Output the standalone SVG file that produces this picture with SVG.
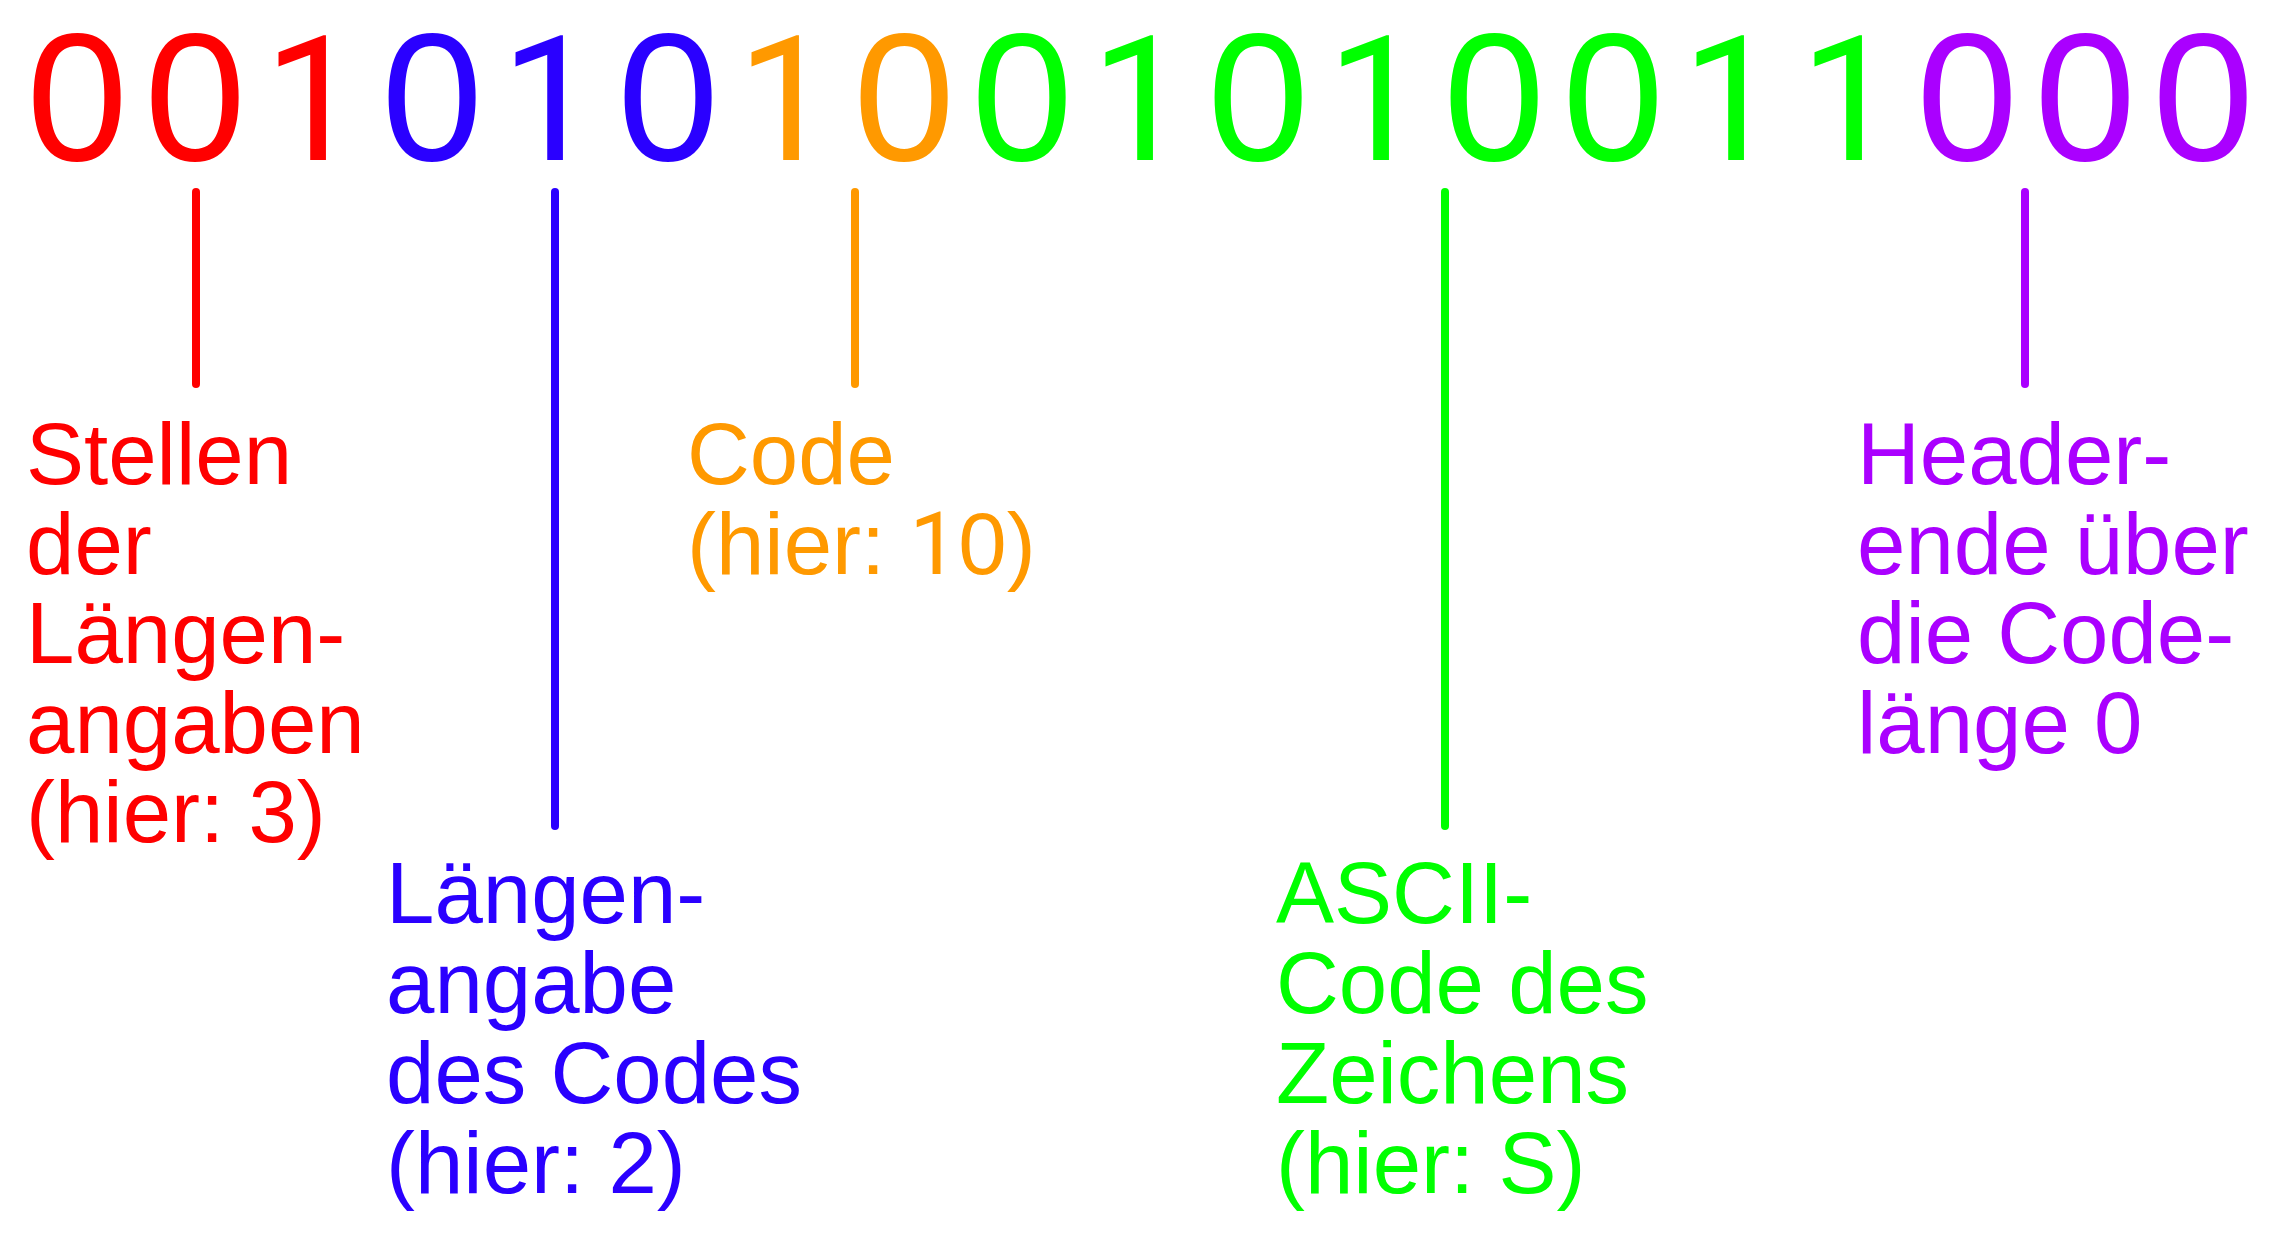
<svg xmlns="http://www.w3.org/2000/svg" width="2279" height="1241" viewBox="0 0 2279 1241">
<style>
text{font-family:"Liberation Sans",Arial,sans-serif}
.d{font-size:182px;text-anchor:middle}
.one{font-family:Roboto,"Liberation Sans",sans-serif}
.d .one{font-size:174px}
.t{font-size:87px}
.r{fill:#ff0000}.b{fill:#2a00ff}.o{fill:#ff9900}.g{fill:#00ff00}.p{fill:#aa00ff}
line{stroke-width:8;stroke-linecap:round}
</style>
<rect width="2279" height="1241" fill="#ffffff"/>
<g id="bits">
<text class="d r" y="160"><tspan x="77">0</tspan><tspan x="195">0</tspan><tspan class="one" x="313">1</tspan></text>
<text class="d b" y="160"><tspan x="432">0</tspan><tspan class="one" x="550">1</tspan><tspan x="668">0</tspan></text>
<text class="d o" y="160"><tspan class="one" x="786">1</tspan><tspan x="904">0</tspan></text>
<text class="d g" y="160"><tspan x="1022">0</tspan><tspan class="one" x="1140">1</tspan><tspan x="1258">0</tspan><tspan class="one" x="1376">1</tspan><tspan x="1494">0</tspan><tspan x="1613">0</tspan><tspan class="one" x="1731">1</tspan><tspan class="one" x="1849">1</tspan></text>
<text class="d p" y="160"><tspan x="1967">0</tspan><tspan x="2085">0</tspan><tspan x="2203">0</tspan></text>
</g>
<g id="connectors">
<line x1="196" y1="192" x2="196" y2="384" stroke="#ff0000"/>
<line x1="555" y1="192" x2="555" y2="826" stroke="#2a00ff"/>
<line x1="855" y1="192" x2="855" y2="384" stroke="#ff9900"/>
<line x1="1445" y1="192" x2="1445" y2="826" stroke="#00ff00"/>
<line x1="2025" y1="192" x2="2025" y2="384" stroke="#aa00ff"/>
</g>
<g id="label-stellen">
<text class="t r"><tspan x="26" y="484">Stellen</tspan><tspan x="26" y="574">der</tspan><tspan x="26" y="663">Längen-</tspan><tspan x="26" y="753">angaben</tspan><tspan x="26" y="842">(hier: 3)</tspan></text>
</g>
<g id="label-laengenangabe">
<text class="t b"><tspan x="386" y="923">Längen-</tspan><tspan x="386" y="1013">angabe</tspan><tspan x="386" y="1103">des Codes</tspan><tspan x="386" y="1193">(hier: 2)</tspan></text>
</g>
<g id="label-code">
<text class="t o"><tspan x="687" y="484">Code</tspan><tspan x="687" y="574">(hier: <tspan class="one">1</tspan>0)</tspan></text>
</g>
<g id="label-ascii">
<text class="t g"><tspan x="1276" y="923">ASCII-</tspan><tspan x="1276" y="1013">Code des</tspan><tspan x="1276" y="1103">Zeichens</tspan><tspan x="1276" y="1193">(hier: S)</tspan></text>
</g>
<g id="label-header">
<text class="t p"><tspan x="1857" y="484">Header-</tspan><tspan x="1857" y="574">ende über</tspan><tspan x="1857" y="663">die Code-</tspan><tspan x="1857" y="753">länge 0</tspan></text>
</g>
</svg>
